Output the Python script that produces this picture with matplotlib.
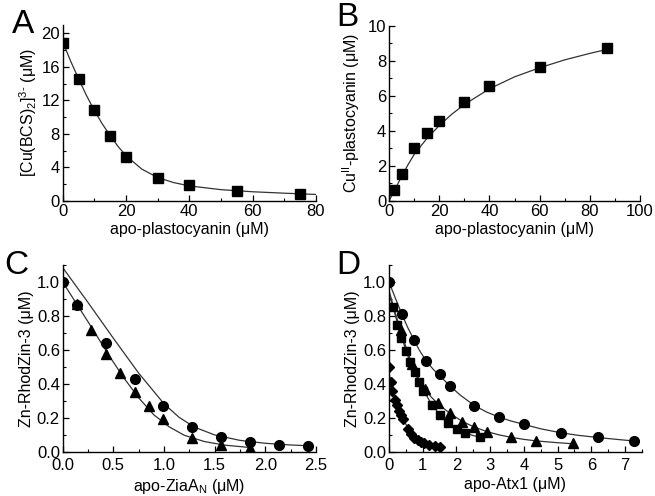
import matplotlib
matplotlib.use("Agg")
import matplotlib.pyplot as plt
from matplotlib.ticker import MultipleLocator

plt.rcParams['font.family'] = ['Liberation Sans', 'DejaVu Sans']
plt.rcParams['mathtext.fontset'] = 'custom'
plt.rcParams['mathtext.rm'] = 'Liberation Sans'
plt.rcParams['mathtext.it'] = 'Liberation Sans'

# Panel A: Cu(BCS)2 vs apo-plastocyanin
a_x = [0, 5, 10, 15, 20, 30, 40, 55, 75]
a_y = [18.9, 14.6, 10.8, 7.7, 5.2, 2.8, 1.9, 1.25, 0.85]
a_fit_x = [0, 2.5, 5, 7.5, 10, 12.5, 15, 17.5, 20, 25, 30, 35, 40, 50, 60, 70, 80]
a_fit_y = [19.0, 16.7, 14.6, 12.6, 10.8, 9.2, 7.8, 6.5, 5.4, 3.8, 2.8, 2.2, 1.8, 1.35, 1.1, 0.93, 0.78]

# Panel B: CuII-plastocyanin vs apo-plastocyanin
b_x = [2, 5, 10, 15, 20, 30, 40, 60, 87]
b_y = [0.65, 1.52, 3.04, 3.9, 4.56, 5.67, 6.56, 7.62, 8.7]
b_fit_x = [0, 2, 5, 7.5, 10, 15, 20, 25, 30, 40, 50, 60, 70, 80, 87]
b_fit_y = [0, 0.55, 1.4, 2.05, 2.65, 3.55, 4.3, 4.95, 5.5, 6.4, 7.08, 7.6, 8.05, 8.42, 8.65]

# Panel C: Zn-RhodZin-3 vs apo-ZiaA_N
c_circ_x = [0, 0.14, 0.43, 0.71, 0.99, 1.28, 1.56, 1.85, 2.14, 2.42]
c_circ_y = [1.0, 0.863, 0.643, 0.43, 0.273, 0.151, 0.092, 0.063, 0.045, 0.035]
c_tri_x = [0.14, 0.28, 0.43, 0.57, 0.71, 0.85, 0.99, 1.28, 1.56, 1.85]
c_tri_y = [0.87, 0.72, 0.58, 0.465, 0.357, 0.273, 0.196, 0.082, 0.043, 0.024]
c_fit1_x = [0, 0.25, 0.5, 0.75, 1.0, 1.15, 1.3, 1.5, 1.75, 2.0, 2.25, 2.45]
c_fit1_y = [1.085, 0.88, 0.67, 0.465, 0.285, 0.205, 0.148, 0.102, 0.07, 0.053, 0.043, 0.038]
c_fit2_x = [0, 0.15, 0.3, 0.45, 0.6, 0.75, 0.9, 1.05, 1.2, 1.4, 1.6, 1.85]
c_fit2_y = [1.0, 0.86, 0.72, 0.575, 0.44, 0.32, 0.22, 0.15, 0.1, 0.063, 0.042, 0.028]

# Panel D: Zn-RhodZin-3 vs apo-Atx1
d_circ_x = [0, 0.376, 0.75, 1.09, 1.51, 1.81, 2.53, 3.26, 4.0, 5.09, 6.19, 7.28]
d_circ_y = [1.0, 0.814, 0.657, 0.537, 0.457, 0.39, 0.274, 0.207, 0.165, 0.113, 0.089, 0.066]
d_sq_x = [0.13, 0.25, 0.37, 0.5, 0.62, 0.76, 0.89, 1.02, 1.27, 1.51, 1.76, 2.01, 2.26, 2.69]
d_sq_y = [0.855, 0.749, 0.674, 0.596, 0.53, 0.474, 0.415, 0.362, 0.276, 0.217, 0.17, 0.137, 0.115, 0.09]
d_tri_x = [0.35, 0.67, 1.07, 1.45, 1.81, 2.17, 2.53, 2.9, 3.62, 4.36, 5.45]
d_tri_y = [0.72, 0.52, 0.37, 0.29, 0.228, 0.18, 0.147, 0.121, 0.088, 0.066, 0.053]
d_dia_x = [0, 0.05, 0.1, 0.17, 0.24, 0.3, 0.36, 0.42, 0.55, 0.65, 0.75, 0.85, 0.95, 1.05, 1.2, 1.35, 1.5]
d_dia_y = [0.5, 0.41, 0.36, 0.31, 0.275, 0.245, 0.22, 0.195, 0.135, 0.105, 0.085, 0.072, 0.063, 0.055, 0.045, 0.038, 0.03]
d_fit_circ_x = [0, 0.2, 0.376, 0.55, 0.75, 0.9, 1.09, 1.3, 1.51, 1.81, 2.1, 2.53, 2.9, 3.26, 3.6, 4.0, 4.5, 5.09, 5.6, 6.19, 6.7, 7.28]
d_fit_circ_y = [1.0, 0.9, 0.814, 0.735, 0.657, 0.6, 0.54, 0.49, 0.448, 0.39, 0.338, 0.275, 0.236, 0.207, 0.185, 0.164, 0.138, 0.115, 0.1, 0.087, 0.077, 0.066]
d_fit_sq_x = [0, 0.13, 0.25, 0.37, 0.5, 0.62, 0.76, 0.89, 1.02, 1.27, 1.51, 1.76, 2.01, 2.26, 2.5, 2.69]
d_fit_sq_y = [0.93, 0.845, 0.76, 0.68, 0.6, 0.532, 0.47, 0.415, 0.365, 0.28, 0.22, 0.172, 0.138, 0.114, 0.098, 0.09]
d_fit_tri_x = [0, 0.2, 0.35, 0.5, 0.67, 0.85, 1.07, 1.25, 1.45, 1.81, 2.17, 2.53, 2.9, 3.25, 3.62, 4.0, 4.36, 4.9, 5.45]
d_fit_tri_y = [0.95, 0.81, 0.715, 0.62, 0.525, 0.445, 0.37, 0.325, 0.285, 0.228, 0.182, 0.148, 0.122, 0.103, 0.088, 0.076, 0.067, 0.058, 0.05]
d_fit_dia_x = [0, 0.05, 0.1, 0.17, 0.24, 0.3, 0.36, 0.42, 0.5, 0.6, 0.7, 0.8, 0.9, 1.0, 1.1, 1.2, 1.35, 1.5]
d_fit_dia_y = [0.47, 0.41, 0.365, 0.315, 0.28, 0.25, 0.225, 0.2, 0.165, 0.127, 0.1, 0.083, 0.072, 0.063, 0.056, 0.048, 0.039, 0.031]

fig = plt.figure(figsize=(6.55, 4.96), dpi=100)
axA = fig.add_axes([0.0957, 0.5948, 0.3867, 0.3548])
axB = fig.add_axes([0.5939, 0.5948, 0.3832, 0.3534])
axC = fig.add_axes([0.0957, 0.0881, 0.3867, 0.3776])
axD = fig.add_axes([0.5939, 0.0881, 0.386, 0.3776])

line_kw = dict(color='#333333', lw=0.9, zorder=2)
mk_kw = dict(ls='none', color='black', zorder=3)


def style(ax, xlim, ylim, xmaj, xmin, ymaj, ymin):
    ax.set_xlim(*xlim)
    ax.set_ylim(*ylim)
    ax.xaxis.set_major_locator(MultipleLocator(xmaj))
    ax.xaxis.set_minor_locator(MultipleLocator(xmin))
    ax.yaxis.set_major_locator(MultipleLocator(ymaj))
    ax.yaxis.set_minor_locator(MultipleLocator(ymin))
    for s in ['top', 'right']:
        ax.spines[s].set_visible(False)
    for s in ['left', 'bottom']:
        ax.spines[s].set_linewidth(1.0)
    ax.tick_params(which='major', direction='in', length=4, width=0.9, labelsize=12, pad=2)
    ax.tick_params(which='minor', direction='in', length=2.5, width=0.8)


# A
axA.plot(a_fit_x, a_fit_y, **line_kw)
axA.plot(a_x, a_y, marker='s', ms=6.5, **mk_kw)
style(axA, (0, 80), (0, 21), 20, 10, 4, 2)
axA.set_xlabel('apo-plastocyanin (μM)', fontsize=11.5, labelpad=2)
axA.set_ylabel(r'[Cu(BCS)$_2$]$^{3\text{-}}$ (μM)', fontsize=11.5, labelpad=2)

# B
axB.plot(b_fit_x, b_fit_y, **line_kw)
axB.plot(b_x, b_y, marker='s', ms=6.5, **mk_kw)
style(axB, (0, 100), (0, 10), 20, 10, 2, 1)
axB.set_xlabel('apo-plastocyanin (μM)', fontsize=11.5, labelpad=2)
axB.set_ylabel(r'Cu$^{\mathrm{II}}$-plastocyanin (μM)', fontsize=11.5, labelpad=4)

# C
axC.plot(c_fit1_x, c_fit1_y, **line_kw)
axC.plot(c_fit2_x, c_fit2_y, **line_kw)
axC.plot(c_circ_x, c_circ_y, marker='o', ms=7, **mk_kw)
axC.plot(c_tri_x, c_tri_y, marker='^', ms=7.5, **mk_kw)
style(axC, (0, 2.5), (0, 1.1), 0.5, 0.25, 0.2, 0.1)
axC.tick_params(axis='x', pad=4)
axC.set_xlabel(r'apo-ZiaA$_\mathrm{N}$ (μM)', fontsize=11.5, labelpad=3)
axC.set_ylabel('Zn-RhodZin-3 (μM)', fontsize=11.5, labelpad=2)

# D
axD.plot(d_fit_circ_x, d_fit_circ_y, **line_kw)
axD.plot(d_fit_sq_x, d_fit_sq_y, **line_kw)
axD.plot(d_fit_tri_x, d_fit_tri_y, **line_kw)
axD.plot(d_fit_dia_x, d_fit_dia_y, **line_kw)
axD.plot(d_circ_x, d_circ_y, marker='o', ms=7, **mk_kw)
axD.plot(d_sq_x, d_sq_y, marker='s', ms=6, **mk_kw)
axD.plot(d_tri_x, d_tri_y, marker='^', ms=7.5, **mk_kw)
axD.plot(d_dia_x, d_dia_y, marker='D', ms=5, **mk_kw)
style(axD, (0, 7.5), (0, 1.1), 1, 0.5, 0.2, 0.1)
axD.tick_params(axis='x', pad=4)
axD.set_xlabel('apo-Atx1 (μM)', fontsize=11.5, labelpad=3)
axD.set_ylabel('Zn-RhodZin-3 (μM)', fontsize=11.5, labelpad=2)

# panel letters
fig.text(0.018, 0.933, 'A', fontsize=24)
fig.text(0.513, 0.947, 'B', fontsize=24)
fig.text(0.006, 0.448, 'C', fontsize=24)
fig.text(0.513, 0.448, 'D', fontsize=24)

fig.savefig('out.png', dpi=100)
